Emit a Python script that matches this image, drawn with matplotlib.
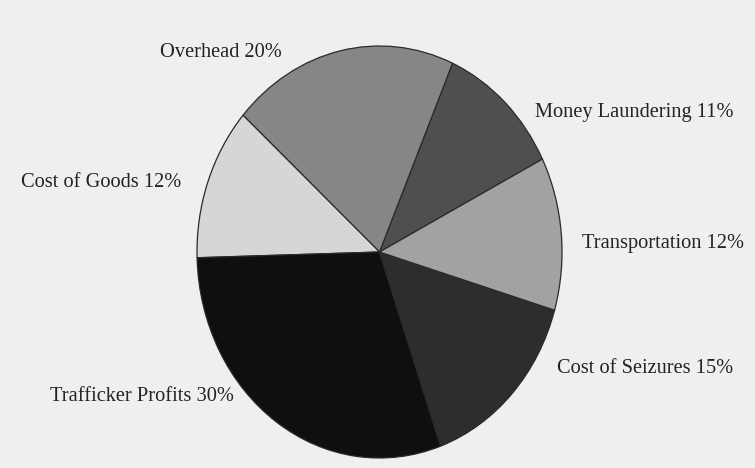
import matplotlib
matplotlib.use("Agg")
import matplotlib.pyplot as plt

# Breakdown of trafficking revenue, listed counter-clockwise from the upper right
categories = ["Money Laundering", "Overhead", "Cost of Goods",
              "Trafficker Profits", "Cost of Seizures", "Transportation"]
shares = [11, 20, 12, 30, 15, 12]
fills = ["#4f4f4f", "#868686", "#d6d6d4", "#0f0f0f", "#2d2d2d", "#a2a2a2"]

# label anchors in pixels (left edge, baseline) measured from the top-left corner
label_px = [(535, 117), (160, 57), (21, 187), (50, 401), (557, 373), (582, 248)]

W, H = 755, 468
bg = "#efefed"
fig = plt.figure(figsize=(W / 100, H / 100), dpi=100, facecolor=bg)

# the pie is drawn into an axes taller than wide, which gives the oval shape
ax = fig.add_axes([197 / W, 1 - 458 / H, 365 / W, 412 / H])
ax.set_facecolor(bg)
ax.pie(shares, colors=fills, startangle=26.8, counterclock=True,
       wedgeprops=dict(edgecolor="#2a2a2a", linewidth=0.9))
ax.set_aspect("auto")
ax.set_xlim(-1.0, 1.0)
ax.set_ylim(-1.0, 1.0)
ax.axis("off")

for name, val, (px, py) in zip(categories, shares, label_px):
    fig.text(px / W, 1 - py / H, f"{name} {val}%", ha="left", va="baseline",
             fontsize=14.7, family="Liberation Serif", color="#232323")

fig.savefig("out.png", dpi=100, facecolor=bg)
